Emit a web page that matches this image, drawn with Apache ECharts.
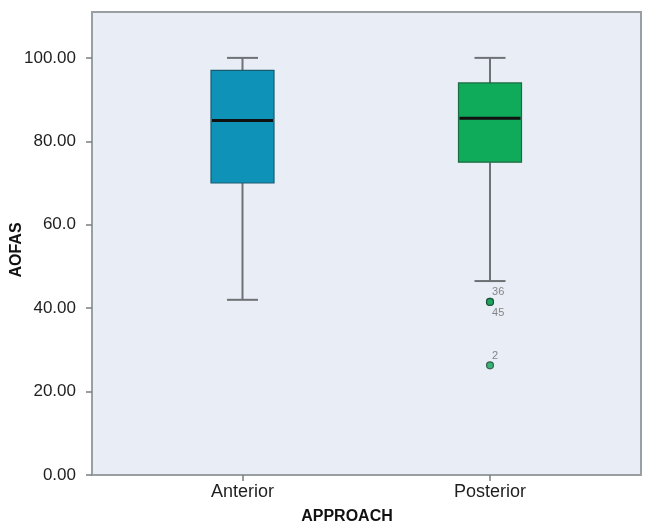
<!DOCTYPE html>
<html><head><meta charset="utf-8">
<script src="https://cdn.jsdelivr.net/npm/echarts@6/dist/echarts.min.js"></script>
<style>html,body{margin:0;padding:0;background:#fff}#c{width:646px;height:527px}</style>
</head><body><div id="c"></div>
<script>
const categories = ['Anterior', 'Posterior'];
// [low whisker, Q1, median, Q3, high whisker]
const boxValues = [
  [42, 70, 85, 97, 100],
  [46.5, 75, 85.5, 94, 100]
];
const boxColors = ['#0f92b8', '#0fab5b'];
const boxStroke = ['#1a5c6e', '#1c6b43'];
const outlierCases = ['36', '45', '2'];
const outlierValues = [41.5, 41.5, 26.3];
const outlierCategory = [1, 1, 1];
const yTicks = [0, 20, 40, 60, 80, 100];
const yTickLabels = ['0.00', '20.00', '40.00', '60.0', '80.00', '100.00'];

const labelOffsets = [[-2, -10], [-2, 11], [-2, -9]];

const chart = echarts.init(document.getElementById('c'), null, {renderer: 'canvas'});
const yCommon = {type: 'value', min: 0, max: 111, interval: 20};
chart.setOption({
  animation: false,
  grid: [
    {left: 92, right: 5, top: 12, bottom: 52, show: true, backgroundColor: '#e9edf6', borderColor: '#9a9fa3', borderWidth: 2},
    {left: 118.75, right: 32.25, top: 12, bottom: 52}
  ],
  xAxis: [
    {gridIndex: 0, type: 'value', min: 0, max: 1, axisLine: {show: false}, axisTick: {show: false}, axisLabel: {show: false}, splitLine: {show: false}},
    {gridIndex: 1, type: 'category', data: categories, boundaryGap: true,
      axisLine: {show: false},
      axisTick: {show: true, alignWithLabel: true, length: 6, lineStyle: {color: '#7a7f83', width: 1.5}},
      axisLabel: {margin: 8, fontSize: 18, color: '#1e1e1e', fontFamily: 'Liberation Sans, Arial, sans-serif'},
      splitLine: {show: false}}
  ],
  yAxis: [
    Object.assign({gridIndex: 0,
      axisLine: {show: false},
      axisTick: {show: true, length: 6, customValues: yTicks, lineStyle: {color: '#7a7f83', width: 1.5}},
      axisLabel: {margin: 16, fontSize: 17, color: '#1e1e1e', fontFamily: 'Liberation Sans, Arial, sans-serif',
        customValues: yTicks,
        formatter: v => { const i = yTicks.indexOf(v); return i >= 0 ? yTickLabels[i] : ''; }},
      splitLine: {show: false}}, yCommon),
    Object.assign({gridIndex: 1, show: false, splitLine: {show: false}}, yCommon)
  ],
  graphic: [
    {type: 'text', x: 347, y: 517, style: {text: 'APPROACH', font: 'bold 16px "Liberation Sans", Arial, sans-serif', fill: '#111', align: 'center', verticalAlign: 'middle'}},
    {type: 'text', x: 17, y: 250, rotation: Math.PI / 2, style: {text: 'AOFAS', font: 'bold 16px "Liberation Sans", Arial, sans-serif', fill: '#111', align: 'center', verticalAlign: 'middle'}}
  ],
  series: [
    {
      type: 'custom', xAxisIndex: 1, yAxisIndex: 1,
      data: boxValues.map((b, i) => [i].concat(b)),
      encode: {x: 0, y: [1, 2, 3, 4, 5]},
      renderItem: function (params, api) {
        const idx = api.value(0);
        const lo = api.coord([idx, api.value(1)]);
        const q1 = api.coord([idx, api.value(2)]);
        const md = api.coord([idx, api.value(3)]);
        const q3 = api.coord([idx, api.value(4)]);
        const hi = api.coord([idx, api.value(5)]);
        const x = lo[0];
        const hw = 31.5, cw = 15.5;
        const wl = {stroke: '#6e7275', lineWidth: 2};
        return {type: 'group', children: [
          {type: 'line', shape: {x1: x, y1: hi[1], x2: x, y2: q3[1]}, style: wl},
          {type: 'line', shape: {x1: x, y1: q1[1], x2: x, y2: lo[1]}, style: wl},
          {type: 'line', shape: {x1: x - cw, y1: hi[1], x2: x + cw, y2: hi[1]}, style: wl},
          {type: 'line', shape: {x1: x - cw, y1: lo[1], x2: x + cw, y2: lo[1]}, style: wl},
          {type: 'rect', shape: {x: x - hw, y: q3[1], width: 2 * hw, height: q1[1] - q3[1]},
            style: {fill: boxColors[idx], stroke: boxStroke[idx], lineWidth: 1.2}},
          {type: 'line', shape: {x1: x - hw + 1, y1: md[1], x2: x + hw - 1, y2: md[1]}, style: {stroke: '#111', lineWidth: 3}}
        ]};
      }
    },
    {
      type: 'scatter', xAxisIndex: 1, yAxisIndex: 1, symbolSize: 7,
      itemStyle: {color: '#11a257', borderColor: '#1f4a33', borderWidth: 1.2},
      data: outlierValues.map((v, i) => ({
        name: outlierCases[i], value: [outlierCategory[i], v],
        label: {show: true, position: 'right', distance: 0, offset: labelOffsets[i], formatter: '{b}', fontSize: 11, color: '#6a6a6a', fontFamily: 'Liberation Sans, Arial, sans-serif'}
      }))
    }
  ]
});
</script></body></html>
